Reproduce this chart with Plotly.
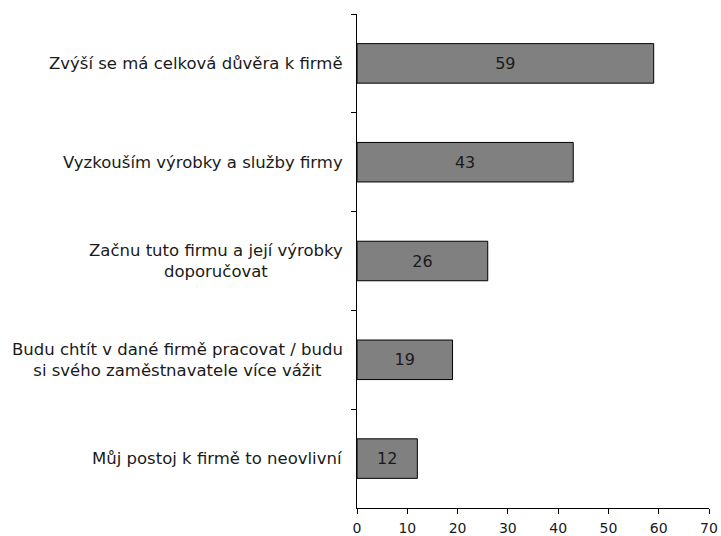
import plotly.graph_objects as go

categories = [
    "Zvýší se má celková důvěra k firmě",
    "Vyzkouším výrobky a služby firmy",
    "Začnu tuto firmu a její výrobky<br>doporučovat",
    "Budu chtít v dané firmě pracovat / budu<br>si svého zaměstnavatele více vážit",
    "Můj postoj k firmě to neovlivní",
]
values = [59, 43, 26, 19, 12]
x_ticks = [0, 10, 20, 30, 40, 50, 60, 70]

FONT = "DejaVu Sans, Liberation Sans, Arial, sans-serif"
TXT = "#1a1a1a"

fig = go.Figure(
    go.Bar(
        y=categories,
        x=values,
        orientation="h",
        width=0.4,
        marker=dict(color="#808080", line=dict(color="#000000", width=1)),
        text=[str(v) for v in values],
        textposition="inside",
        insidetextanchor="middle",
        textangle=0,
        textfont=dict(family=FONT, size=16, color=TXT),
        hoverinfo="skip",
    )
)

for c in categories:
    fig.add_annotation(
        x=0, xref="paper", y=c, yref="y",
        text=c, showarrow=False,
        xanchor="right", yanchor="middle", align="center",
        xshift=-12,
        font=dict(family=FONT, size=16.5, color=TXT),
    )

fig.update_layout(
    width=721, height=536,
    margin=dict(l=357, r=12, t=14, b=28, autoexpand=False),
    paper_bgcolor="white", plot_bgcolor="white",
    showlegend=False,
    font=dict(family=FONT, size=14, color=TXT),
)
fig.update_xaxes(
    range=[0, 70], tickvals=x_ticks, ticktext=[str(t) for t in x_ticks],
    showgrid=False, zeroline=False, automargin=False,
    showline=True, linecolor="#000000", linewidth=1,
    ticks="outside", ticklen=5, tickcolor="#000000",
    ticklabelstandoff=2,
    tickfont=dict(family=FONT, size=14, color=TXT),
)
fig.update_yaxes(
    type="category", categoryorder="array", categoryarray=categories,
    autorange="reversed", automargin=False,
    tickson="boundaries",
    showticklabels=False, showgrid=False, zeroline=False,
    showline=True, linecolor="#000000", linewidth=1,
    ticks="outside", ticklen=5, tickcolor="#000000",
)

fig.write_html("out.html")
